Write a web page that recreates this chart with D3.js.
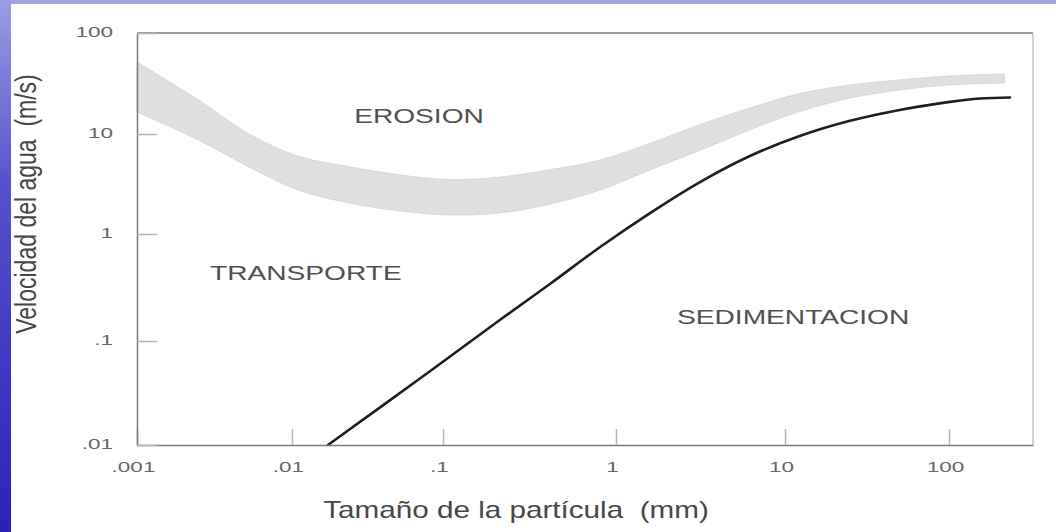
<!DOCTYPE html>
<html>
<head>
<meta charset="utf-8">
<style>
  html, body { margin: 0; padding: 0; background: #fff; }
  svg { display: block; }
  text { font-family: 'Liberation Sans', Arial, sans-serif; white-space: pre; }
</style>
</head>
<body>
<svg id="canvas" width="1056" height="532"></svg>
<script src="https://cdn.jsdelivr.net/npm/d3@7/dist/d3.min.js"></script>
<script>
// banda de erosion: tamaño (mm) y sus dos bordes de velocidad
var bandSizes = [0.001, 0.0025, 0.0054, 0.011, 0.024, 0.052, 0.11, 0.21, 0.42, 0.81, 1.6, 3.1, 6.2, 12, 25, 50, 100, 220];
var erosionUpper = [51.6, 21.7, 9.8, 6.0, 4.7, 3.9, 3.5, 3.7, 4.4, 5.5, 8.1, 12.3, 18.1, 24.9, 30.6, 34.3, 37.5, 39.3];
var erosionLower = [16.5, 8.7, 4.6, 2.75, 2.04, 1.7, 1.55, 1.62, 2.0, 2.75, 4.4, 6.8, 11.0, 16.5, 22.7, 27.3, 30.6, 32.0];

// curva de sedimentacion
var sedSizes = [0.0173, 0.0726, 0.213, 0.415, 0.81, 1.59, 3.14, 6.2, 12.3, 24.9, 50, 101, 155, 238];
var sedVelocity = [0.01, 0.045, 0.157, 0.341, 0.757, 1.62, 3.31, 6.03, 9.55, 13.5, 17.3, 20.8, 22.5, 23.0];

var xTicks = [0.001, 0.01, 0.1, 1, 10, 100];
var xTickLabels = ['.001', '.01', '.1', '1', '10', '100'];
var yTicks = [0.01, 0.1, 1, 10, 100];
var yTickLabels = ['.01', '.1', '1', '10', '100'];

var svg, x, y, stretch = 1.34;

init();

function init() {
  svg = d3.select('svg#canvas');

  // the scan is not quite even, so the log scales get one stop per decade
  x = d3.scaleLog()
    .domain([0.001, 0.01, 0.1, 1, 10, 100, 330])
    .range([137, 292, 443, 616, 785, 949, 1033]);
  y = d3.scaleLog()
    .domain([0.01, 0.1, 1, 10, 100])
    .range([445, 341, 234, 134, 33]);

  drawFrame();
  drawBand();
  drawSedimentation();
  drawAxes();
  drawLabels();
}

function drawFrame() {
  var defs = svg.append('defs');

  var grad = defs.append('linearGradient')
    .attr('id', 'sideBlue')
    .attr('x1', 0).attr('y1', 0).attr('x2', 0).attr('y2', 1);
  grad.append('stop').attr('offset', '0%').attr('stop-color', '#9c9ce0');
  grad.append('stop').attr('offset', '35%').attr('stop-color', '#5452cc');
  grad.append('stop').attr('offset', '100%').attr('stop-color', '#2a22b6');

  var hatch = defs.append('pattern')
    .attr('id', 'hatch')
    .attr('width', 3).attr('height', 3)
    .attr('patternUnits', 'userSpaceOnUse')
    .attr('patternTransform', 'rotate(35)');
  hatch.append('rect').attr('width', 3).attr('height', 3).attr('fill', '#e3e3e3');
  hatch.append('line')
    .attr('x1', 0).attr('y1', 0).attr('x2', 0).attr('y2', 3)
    .attr('stroke', '#cdcdcd').attr('stroke-width', 1);

  svg.append('rect').attr('x', 0).attr('y', 0).attr('width', 1056).attr('height', 4)
    .attr('fill', '#a4a4e0');
  svg.append('rect').attr('x', 0).attr('y', 0).attr('width', 11).attr('height', 532)
    .attr('fill', 'url(#sideBlue)');
}

function drawBand() {
  var pts = bandSizes.map(function(d, i) {
    return {size: d, hi: erosionUpper[i], lo: erosionLower[i]};
  });

  var area = d3.area()
    .x(function(d) { return x(d.size); })
    .y0(function(d) { return y(d.lo); })
    .y1(function(d) { return y(d.hi); })
    .curve(d3.curveCatmullRom);

  svg.append('path')
    .datum(pts)
    .attr('class', 'band')
    .attr('d', area)
    .attr('fill', 'url(#hatch)')
    .attr('stroke', '#d2d2d2')
    .attr('stroke-width', 0.8);
}

function drawSedimentation() {
  var pts = sedSizes.map(function(d, i) { return {size: d, v: sedVelocity[i]}; });

  var line = d3.line()
    .x(function(d) { return x(d.size); })
    .y(function(d) { return y(d.v); })
    .curve(d3.curveCatmullRom);

  svg.append('path')
    .datum(pts)
    .attr('class', 'sed')
    .attr('d', line)
    .attr('fill', 'none')
    .attr('stroke', '#1e1e1e')
    .attr('stroke-width', 2.6)
    .attr('stroke-linecap', 'round');
}

function drawAxes() {
  // top and right edges of the box
  svg.append('line').attr('x1', 137).attr('x2', 1033).attr('y1', 33).attr('y2', 33)
    .attr('stroke', '#7a7a7a').attr('stroke-width', 1.5);
  svg.append('line').attr('x1', 1033).attr('x2', 1033).attr('y1', 33).attr('y2', 445)
    .attr('stroke', '#c4c4c4').attr('stroke-width', 1.5);

  var xAxis = svg.append('g')
    .attr('transform', 'translate(0,445)')
    .call(d3.axisBottom(x)
      .tickValues(xTicks)
      .tickSize(-16)
      .tickSizeOuter(0)
      .tickFormat(function(d, i) { return xTickLabels[i]; }));

  var yAxis = svg.append('g')
    .attr('transform', 'translate(137,0)')
    .call(d3.axisLeft(y)
      .tickValues(yTicks)
      .tickSize(-20)
      .tickSizeOuter(0)
      .tickFormat(function(d, i) { return yTickLabels[i]; }));

  [xAxis, yAxis].forEach(function(g) {
    g.select('.domain').attr('stroke', '#7a7a7a').attr('stroke-width', 1.5);
    g.selectAll('.tick line').attr('stroke', '#b4b4b4').attr('stroke-width', 1.5);
    g.selectAll('.tick text')
      .attr('fill', '#666')
      .style('font-size', '15px');
  });

  xAxis.selectAll('.tick text')
    .attr('y', 0).attr('dy', '0.35em')
    .attr('transform', 'translate(-4,22) scale(1.5,1)');

  yAxis.selectAll('.tick text')
    .attr('x', 0).attr('dy', '0.35em')
    .attr('transform', 'translate(-24,-2) scale(1.5,1)');
}

function drawLabels() {
  svg.append('text')
    .attr('transform', 'translate(516,518) scale(1.29,1)')
    .attr('text-anchor', 'middle')
    .attr('fill', '#474747')
    .style('font-size', '23px')
    .text('Tamaño de la partícula  (mm)');

  svg.append('text')
    .attr('transform', 'translate(26,204) scale(1.31,1) rotate(-90)')
    .attr('text-anchor', 'middle')
    .attr('dominant-baseline', 'central')
    .attr('fill', '#474747')
    .style('font-size', '23px')
    .text('Velocidad del agua  (m/s)');

  var region = svg.append('g').attr('class', 'regions')
    .attr('fill', '#505050')
    .style('font-size', '21px');

  region.append('text')
    .attr('transform', 'translate(419,123) scale(' + stretch + ',1)')
    .attr('text-anchor', 'middle')
    .text('EROSION');
  region.append('text')
    .attr('transform', 'translate(210,280) scale(' + stretch + ',1)')
    .text('TRANSPORTE');
  region.append('text')
    .attr('transform', 'translate(677,324) scale(' + stretch + ',1)')
    .text('SEDIMENTACION');
}
</script>
</body>
</html>
